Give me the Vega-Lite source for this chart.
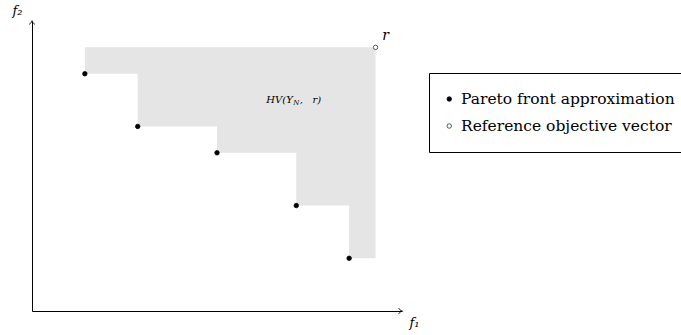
{
  "$schema": "https://vega.github.io/schema/vega-lite/v6.json",
  "width": 370,
  "height": 290,
  "autosize": "none",
  "padding": {"left": 32, "top": 21, "right": 279, "bottom": 24},
  "background": "white",
  "config": {"view": {"stroke": null}},
  "datasets": {
    "front": [
      {"f1": 2, "f2": 9, "type": "Pareto front approximation"},
      {"f1": 4, "f2": 7, "type": "Pareto front approximation"},
      {"f1": 7, "f2": 6, "type": "Pareto front approximation"},
      {"f1": 10, "f2": 4, "type": "Pareto front approximation"},
      {"f1": 12, "f2": 2, "type": "Pareto front approximation"},
      {"f1": 13, "f2": 10, "type": "Reference objective vector", "label": "r"}
    ],
    "hv": [
      {"f1": 2, "f2": 9},
      {"f1": 4, "f2": 7},
      {"f1": 7, "f2": 6},
      {"f1": 10, "f2": 4},
      {"f1": 12, "f2": 2},
      {"f1": 13, "f2": 2}
    ],
    "arrows": [
      {"f1": 14, "f2": 0, "axis": "f1"},
      {"f1": 0, "f2": 11, "axis": "f2"}
    ],
    "hvlabel": [
      {"f1": 10, "f2": 8, "pre": "HV(Y", "sub": "N", "post": ",\u00a0\u00a0\u00a0r)"}
    ]
  },
  "layer": [
    {
      "data": {"name": "hv"},
      "mark": {"type": "area", "interpolate": "step-after", "color": "#e5e5e5", "opacity": 1},
      "encoding": {
        "x": {
          "field": "f1", "type": "quantitative",
          "scale": {"domain": [0, 14], "nice": false, "zero": false},
          "axis": {"domain": true, "domainColor": "black", "domainWidth": 1, "ticks": false, "labels": false, "grid": false,
            "title": "f₁", "titleFont": "DejaVu Serif", "titleFontStyle": "italic", "titleFontWeight": "normal", "titleFontSize": 13,
            "titleColor": "black", "titleAngle": 0, "titleAlign": "left", "titleBaseline": "middle", "titleX": 377, "titleY": 11}
        },
        "y": {
          "field": "f2", "type": "quantitative",
          "scale": {"domain": [0, 11], "nice": false, "zero": false},
          "axis": {"domain": true, "domainColor": "black", "domainWidth": 1, "ticks": false, "labels": false, "grid": false,
            "title": "f₂", "titleFont": "DejaVu Serif", "titleFontStyle": "italic", "titleFontWeight": "normal", "titleFontSize": 13,
            "titleColor": "black", "titleAngle": 0, "titleAlign": "left", "titleBaseline": "middle", "titleX": -20, "titleY": -11}
        },
        "y2": {"datum": 10}
      }
    },
    {
      "data": {"name": "arrows"},
      "transform": [{"filter": "datum.axis === 'f1'"}],
      "mark": {"type": "point", "shape": "M -1.2 -1 C -0.8 -0.4 -0.3 -0.1 0.1 0 C -0.3 0.1 -0.8 0.4 -1.2 1", "filled": false, "stroke": "black", "strokeWidth": 1, "size": 30, "opacity": 1},
      "encoding": {
        "x": {"field": "f1", "type": "quantitative"},
        "y": {"field": "f2", "type": "quantitative"}
      }
    },
    {
      "data": {"name": "arrows"},
      "transform": [{"filter": "datum.axis === 'f2'"}],
      "mark": {"type": "point", "shape": "M -1 1.2 C -0.4 0.8 -0.1 0.3 0 -0.1 C 0.1 0.3 0.4 0.8 1 1.2", "filled": false, "stroke": "black", "strokeWidth": 1, "size": 30, "opacity": 1},
      "encoding": {
        "x": {"field": "f1", "type": "quantitative"},
        "y": {"field": "f2", "type": "quantitative"}
      }
    },
    {
      "data": {"name": "front"},
      "mark": {"type": "circle", "size": 20, "strokeWidth": 0.8, "opacity": 1},
      "encoding": {
        "x": {"field": "f1", "type": "quantitative"},
        "y": {"field": "f2", "type": "quantitative"},
        "fill": {
          "field": "type", "type": "nominal",
          "scale": {"domain": ["Pareto front approximation", "Reference objective vector"], "range": ["black", "white"]},
          "legend": {
            "orient": "none", "legendX": 397, "legendY": 52, "title": null, "columns": 1,
            "strokeColor": "black", "padding": 12.5, "clipHeight": 27, "rowPadding": 0,
            "symbolSize": 20, "symbolStrokeWidth": 0.8, "symbolType": "circle",
            "labelFont": "DejaVu Serif", "labelFontSize": 15.5, "labelColor": "black", "labelOffset": 4, "labelLimit": 500
          }
        },
        "stroke": {
          "field": "type", "type": "nominal",
          "scale": {"domain": ["Pareto front approximation", "Reference objective vector"], "range": ["black", "#333333"]}
        }
      }
    },
    {
      "data": {"name": "front"},
      "transform": [{"filter": "datum.label != null"}],
      "mark": {"type": "text", "font": "DejaVu Serif", "fontStyle": "italic", "fontSize": 14, "color": "black", "dx": 10, "dy": -11},
      "encoding": {
        "x": {"field": "f1", "type": "quantitative"},
        "y": {"field": "f2", "type": "quantitative"},
        "text": {"field": "label"}
      }
    },
    {
      "data": {"name": "hvlabel"},
      "mark": {"type": "text", "font": "DejaVu Serif", "fontStyle": "italic", "fontSize": 10, "color": "black", "align": "right", "baseline": "middle", "dx": -3.5},
      "encoding": {
        "x": {"field": "f1", "type": "quantitative"},
        "y": {"field": "f2", "type": "quantitative"},
        "text": {"field": "pre"}
      }
    },
    {
      "data": {"name": "hvlabel"},
      "mark": {"type": "text", "font": "DejaVu Serif", "fontStyle": "italic", "fontSize": 7, "color": "black", "align": "center", "baseline": "middle", "dy": 2.5},
      "encoding": {
        "x": {"field": "f1", "type": "quantitative"},
        "y": {"field": "f2", "type": "quantitative"},
        "text": {"field": "sub"}
      }
    },
    {
      "data": {"name": "hvlabel"},
      "mark": {"type": "text", "font": "DejaVu Serif", "fontStyle": "italic", "fontSize": 10, "color": "black", "align": "left", "baseline": "middle", "dx": 3.5},
      "encoding": {
        "x": {"field": "f1", "type": "quantitative"},
        "y": {"field": "f2", "type": "quantitative"},
        "text": {"field": "post"}
      }
    }
  ]
}
